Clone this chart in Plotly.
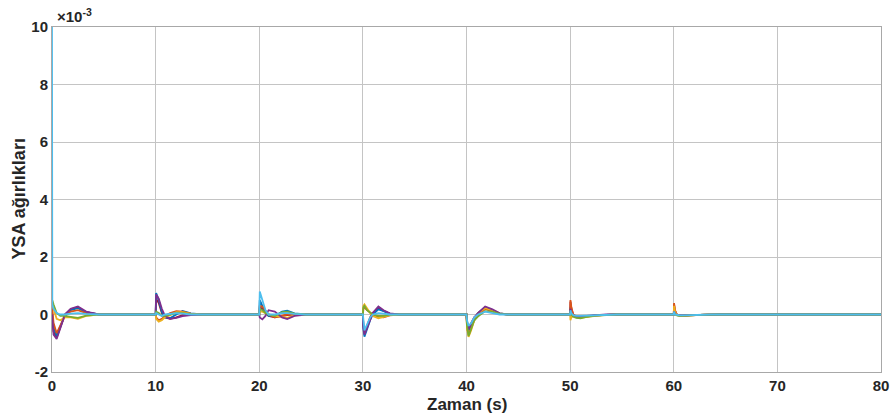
import plotly.graph_objects as go

# Weight traces of the neural network (values in units of 1e-3)
SERIES_COLORS = ["#A2142F", "#0072BD", "#D95319", "#EDB120", "#7E2F8E", "#77AC30", "#4DBEEE"]

EVENT_TIMES = [0, 10, 20, 30, 40, 50, 60]
T_END = 80

# keypoint time offsets after each disturbance instant
OFF_0 = [0, 0.03, 0.15, 0.45, 0.8, 1.25, 1.8, 2.5, 3.3, 4.5]
OFF_10 = [0, 0.05, 0.3, 0.6, 0.9, 1.4, 2.0, 2.6, 3.4, 4.5]
OFF_20 = [0, 0.05, 0.3, 0.6, 0.9, 1.5, 2.2, 2.7, 3.4, 4.5]
OFF_30 = [0, 0.05, 0.15, 0.4, 0.7, 0.95, 1.5, 2.0, 2.6, 3.5]
OFF_40 = [0, 0.05, 0.2, 0.45, 0.75, 1.1, 1.8, 2.5, 3.2, 4.0]
OFF_50 = [0, 0.03, 0.12, 0.3, 0.6, 1.0, 1.6, 2.5, 3.5, 4.5]
OFF_60 = [0, 0.03, 0.12, 0.3, 0.6, 1.0, 1.6, 2.5, 3.5, 4.5]

# weights at the keypoints, one row per series (same order as SERIES_COLORS)
W_0 = [
    [0.05, -0.1, -0.6, -0.8, -0.45, 0.0, 0.18, 0.25, 0.08, 0],
    [0.15, 0.0, -0.45, -0.75, -0.45, 0.0, 0.15, 0.22, 0.08, 0],
    [0.3, 0.2, -0.3, -0.65, -0.4, -0.05, 0.1, 0.15, 0.05, 0],
    [0.4, 0.45, 0.2, -0.15, -0.2, -0.1, -0.1, -0.15, -0.05, 0],
    [0.0, -0.2, -0.7, -0.85, -0.5, 0.0, 0.2, 0.28, 0.1, 0],
    [0.45, 0.5, 0.35, 0.05, -0.05, -0.05, -0.08, -0.12, -0.04, 0],
    [10, 0.35, 0.2, 0.05, 0.0, 0.0, 0.03, 0.05, 0.02, 0],
]
W_10 = [
    [0, 0.55, 0.4, 0.05, -0.1, -0.15, -0.1, -0.02, 0.0, 0],
    [0, 0.75, 0.5, 0.1, -0.1, -0.12, 0.0, 0.12, 0.04, 0],
    [0, -0.1, -0.2, -0.15, -0.05, 0.05, 0.12, 0.1, 0.03, 0],
    [0, -0.15, -0.25, -0.2, -0.1, -0.02, 0.08, 0.08, 0.02, 0],
    [0, 0.7, 0.55, 0.2, -0.05, -0.15, -0.12, -0.06, -0.02, 0],
    [0, 0.1, 0.05, -0.05, -0.05, 0.0, 0.05, 0.05, 0.01, 0],
    [0, 0.05, 0.0, -0.05, 0.0, 0.03, 0.05, 0.03, 0.0, 0],
]
W_20 = [
    [0, 0.25, 0.2, 0.1, -0.05, -0.1, -0.05, -0.02, 0.0, 0],
    [0, 0.5, 0.3, 0.05, -0.05, -0.05, 0.1, 0.13, 0.04, 0],
    [0, 0.3, 0.28, 0.15, 0.0, -0.1, -0.05, 0.0, 0.0, 0],
    [0, 0.1, 0.1, 0.05, 0.0, -0.05, -0.1, -0.12, -0.03, 0],
    [0, -0.1, -0.17, -0.05, 0.15, 0.1, -0.1, -0.16, -0.05, 0],
    [0, 0.2, 0.15, 0.05, 0.0, -0.05, 0.08, 0.1, 0.03, 0],
    [0, 0.8, 0.5, 0.15, 0.0, 0.0, 0.05, 0.05, 0.02, 0],
]
W_30 = [
    [0, -0.4, -0.6, -0.4, -0.1, 0.05, 0.22, 0.12, 0.03, 0],
    [0, -0.5, -0.77, -0.5, -0.2, 0.0, 0.18, 0.12, 0.03, 0],
    [0, 0.2, 0.25, 0.15, 0.05, 0.0, -0.08, -0.1, -0.03, 0],
    [0, 0.3, 0.35, 0.2, 0.05, -0.05, -0.13, -0.08, -0.02, 0],
    [0, -0.45, -0.7, -0.45, -0.15, 0.05, 0.28, 0.15, 0.04, 0],
    [0, 0.25, 0.3, 0.15, 0.05, 0.0, -0.05, -0.05, -0.01, 0],
    [0, -0.3, -0.55, -0.35, -0.1, 0.0, 0.05, 0.03, 0.0, 0],
]
W_40 = [
    [0, -0.25, -0.45, -0.3, -0.1, 0.0, 0.2, 0.12, 0.03, 0],
    [0, -0.35, -0.55, -0.4, -0.15, 0.05, 0.25, 0.15, 0.04, 0],
    [0, -0.45, -0.7, -0.5, -0.2, 0.0, 0.2, 0.12, 0.03, 0],
    [0, -0.5, -0.78, -0.55, -0.2, 0.05, 0.22, 0.15, 0.04, 0],
    [0, -0.3, -0.5, -0.35, -0.1, 0.05, 0.28, 0.18, 0.04, 0],
    [0, -0.4, -0.75, -0.5, -0.2, -0.07, 0.12, 0.1, 0.02, 0],
    [0, -0.2, -0.4, -0.3, -0.1, 0.0, 0.1, 0.05, 0.0, 0],
]
W_50 = [
    [0, 0.45, 0.2, 0.0, -0.08, -0.09, -0.06, -0.03, -0.01, 0],
    [0, 0.25, 0.1, -0.05, -0.1, -0.1, -0.06, -0.03, -0.01, 0],
    [0, 0.5, 0.25, 0.0, -0.08, -0.1, -0.07, -0.03, -0.01, 0],
    [0, -0.2, -0.1, -0.05, -0.08, -0.12, -0.08, -0.04, -0.01, 0],
    [0, 0.2, 0.05, -0.05, -0.08, -0.08, -0.05, -0.02, 0.0, 0],
    [0, 0.1, 0.0, -0.08, -0.12, -0.13, -0.08, -0.04, -0.01, 0],
    [0, 0.15, 0.05, -0.02, -0.05, -0.05, -0.04, -0.02, -0.01, 0],
]
W_60 = [
    [0, 0.35, 0.12, 0.0, -0.03, -0.04, -0.02, -0.01, 0, 0],
    [0, 0.15, 0.05, -0.02, -0.04, -0.04, -0.03, -0.01, 0, 0],
    [0, 0.4, 0.15, 0.0, -0.04, -0.05, -0.03, -0.01, 0, 0],
    [0, 0.3, 0.1, -0.02, -0.05, -0.05, -0.03, -0.01, 0, 0],
    [0, 0.1, 0.02, -0.02, -0.03, -0.03, -0.02, -0.01, 0, 0],
    [0, 0.05, 0.0, -0.03, -0.05, -0.05, -0.03, -0.01, 0, 0],
    [0, 0.1, 0.0, -0.02, -0.03, -0.03, -0.02, -0.01, 0, 0],
]

X_TICKS = [0, 10, 20, 30, 40, 50, 60, 70, 80]
Y_TICKS = [-2, 0, 2, 4, 6, 8, 10]

EVENTS = list(zip(EVENT_TIMES, [OFF_0, OFF_10, OFF_20, OFF_30, OFF_40, OFF_50, OFF_60],
                  [W_0, W_10, W_20, W_30, W_40, W_50, W_60]))

FONT = "Liberation Sans, Arial, sans-serif"
TXT = "#262626"

fig = go.Figure()
for i, color in enumerate(SERIES_COLORS):
    t, w = [], []
    for t0, offs, table in EVENTS:
        for dt, v in zip(offs, table[i]):
            t.append(t0 + dt)
            w.append(v)
    t.append(T_END)
    w.append(0)
    fig.add_trace(go.Scatter(x=t, y=w, mode="lines",
                             line=dict(color=color, width=1.8),
                             showlegend=False, hoverinfo="skip"))

axis_common = dict(showgrid=True, gridcolor="#c4c4c4", gridwidth=1,
                   showline=True, linecolor="#a8a8a8", linewidth=1, mirror=True,
                   zeroline=False, ticks="", automargin=False,
                   tickfont=dict(family=FONT, size=15, color=TXT, weight="bold"))

fig.update_layout(
    width=894, height=417,
    margin=dict(l=52, r=13, t=27, b=45),
    paper_bgcolor="white", plot_bgcolor="white",
    xaxis=dict(range=[0, 80], tickvals=X_TICKS, ticktext=[str(v) for v in X_TICKS],
               **axis_common),
    yaxis=dict(range=[-2, 10], tickvals=Y_TICKS, ticktext=[str(v) for v in Y_TICKS],
               **axis_common),
    annotations=[
        dict(text="×10<sup>-3</sup>", xref="paper", yref="paper",
             x=0.004, y=1.0, xanchor="left", yanchor="bottom", showarrow=False,
             font=dict(family=FONT, size=15, color=TXT, weight="bold")),
        dict(text="Zaman (s)", xref="paper", yref="paper",
             x=0.5, y=0, xanchor="center", yanchor="middle", yshift=-32, showarrow=False,
             font=dict(family=FONT, size=17, color=TXT, weight="bold")),
        dict(text="YSA ağırlıkları", xref="paper", yref="paper", textangle=-90,
             x=0, y=0.5, xanchor="center", yanchor="middle", xshift=-34, showarrow=False,
             font=dict(family=FONT, size=18, color=TXT, weight="bold")),
    ],
)

fig.write_html("out.html")
